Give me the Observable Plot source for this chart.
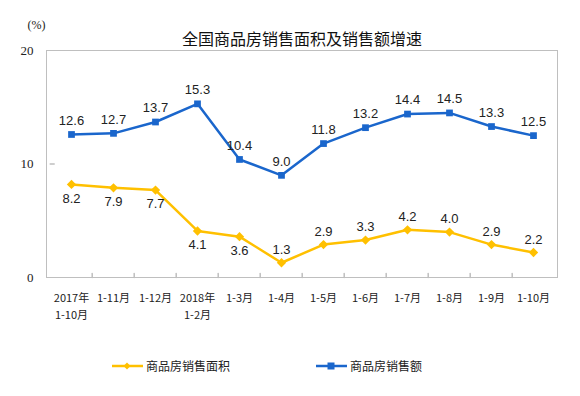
<!DOCTYPE html>
<html>
<head>
<meta charset="utf-8">
<script src="https://cdn.jsdelivr.net/npm/d3@7"></script>
<script src="https://cdn.jsdelivr.net/npm/@observablehq/plot@0.6"></script>
<style>
  html, body { margin: 0; padding: 0; background: #fff; }
  #chart { width: 580px; height: 396px; position: relative; overflow: hidden; }
  .legend { display: flex; align-items: center; height: 61px; padding-left: 112px; box-sizing: border-box;
            font-family: "Noto Sans CJK SC", sans-serif; font-size: 12px; color: #222; }
  .legend .item { display: flex; align-items: center; margin-right: 86px; }
  .legend svg { margin-right: 3px; }
</style>
</head>
<body>
<div id="chart"></div>
<script>
const categories = ["2017年\n1-10月", "1-11月", "1-12月", "2018年\n1-2月", "1-3月", "1-4月", "1-5月", "1-6月", "1-7月", "1-8月", "1-9月", "1-10月"];
const areaGrowth  = [8.2, 7.9, 7.7, 4.1, 3.6, 1.3, 2.9, 3.3, 4.2, 4.0, 2.9, 2.2];
const salesGrowth = [12.6, 12.7, 13.7, 15.3, 10.4, 9.0, 11.8, 13.2, 14.4, 14.5, 13.3, 12.5];
const yTicks = [0, 10, 20];
const titleText = "全国商品房销售面积及销售额增速";
const unitText = "(%)";
const seriesNames = ["商品房销售面积", "商品房销售额"];
const seriesColors = ["#ffc000", "#1a66cc"];

const W = 580, H = 335, mL = 46, mR = 23, mT = 50, mB = 58;
const step = (W - mL - mR) / categories.length;

const rows = categories.map((c, i) => ({category: c, area: areaGrowth[i], sales: salesGrowth[i], i}));
const tickShape = {draw(ctx, l) { ctx.moveTo(0, 0); ctx.lineTo(0, -l); }};
const cjk = "\"Noto Sans CJK SC\", sans-serif";
const num = "\"Liberation Sans\", Arial, sans-serif";

const plot = Plot.plot({
  width: W, height: H,
  marginLeft: mL, marginRight: mR, marginTop: mT, marginBottom: mB,
  x: {type: "point", domain: categories, padding: 0.5},
  y: {domain: [0, 20]},
  style: {fontFamily: cjk, color: "#222", background: "#fff"},
  marks: [
    Plot.frame({stroke: "#bfbfbf", strokeWidth: 1}),
    Plot.axisY({ticks: yTicks, tickSize: 0, tickPadding: 13, label: null, fontSize: 13,
                fontFamily: "\"Liberation Serif\", serif"}),
    Plot.vector(yTicks.slice(1, -1), {x: () => categories[0], y: d => d, dx: -step / 2, rotate: 90,
                length: 4, anchor: "start", shape: tickShape, stroke: "#bfbfbf"}),
    Plot.axisX({tickSize: 0, tickPadding: 12, label: null, fontSize: 11, lineHeight: 1.55,
                fontFamily: "\"Noto Sans CJK SC\", \"Liberation Serif\", serif"}),
    Plot.vector(categories.slice(1), {x: d => d, y: () => 0, dx: -step / 2, rotate: 0,
                length: 4, anchor: "start", shape: tickShape, stroke: "#bfbfbf"}),
    Plot.line(rows, {x: "category", y: "sales", stroke: seriesColors[1], strokeWidth: 2.5}),
    Plot.dot(rows, {x: "category", y: "sales", symbol: "square", r: 3.8, fill: seriesColors[1]}),
    Plot.line(rows, {x: "category", y: "area", stroke: seriesColors[0], strokeWidth: 2.5}),
    Plot.dot(rows, {x: "category", y: "area", symbol: "diamond2", r: 4.2, fill: seriesColors[0]}),
    Plot.text(rows, {x: "category", y: "sales", text: d => d.sales.toFixed(1), dy: -14,
                     fontSize: 13, fontFamily: num, fill: "#222"}),
    Plot.text(rows.filter(d => d.i < 5), {x: "category", y: "area", text: d => d.area.toFixed(1), dy: 14,
                     fontSize: 13, fontFamily: num, fill: "#222"}),
    Plot.text(rows.filter(d => d.i >= 5), {x: "category", y: "area", text: d => d.area.toFixed(1), dy: -13,
                     fontSize: 13, fontFamily: num, fill: "#222"}),
    Plot.text([titleText], {text: d => d, frameAnchor: "top", dy: -17, fontSize: 16, fontWeight: 400,
                     fontFamily: cjk, fill: "#111"}),
    Plot.text([unitText], {text: d => d, frameAnchor: "top-left", dx: -19, dy: -30, fontSize: 12,
                     fontFamily: "\"Liberation Serif\", serif", fill: "#222"})
  ]
});
document.getElementById("chart").appendChild(plot);

const legend = document.createElement("div");
legend.className = "legend";
seriesNames.forEach((name, k) => {
  const item = document.createElement("div");
  item.className = "item";
  const marker = k === 0
    ? `<path d="M15,1.5 L18.5,5 L15,8.5 L11.5,5 Z" fill="${seriesColors[k]}"/>`
    : `<rect x="11.5" y="1.5" width="7" height="7" fill="${seriesColors[k]}"/>`;
  item.innerHTML = `<svg width="31" height="10"><line x1="0" y1="5" x2="31" y2="5" stroke="${seriesColors[k]}" stroke-width="2.5"/>${marker}</svg><span>${name}</span>`;
  legend.appendChild(item);
});
document.getElementById("chart").appendChild(legend);
</script>
</body>
</html>
